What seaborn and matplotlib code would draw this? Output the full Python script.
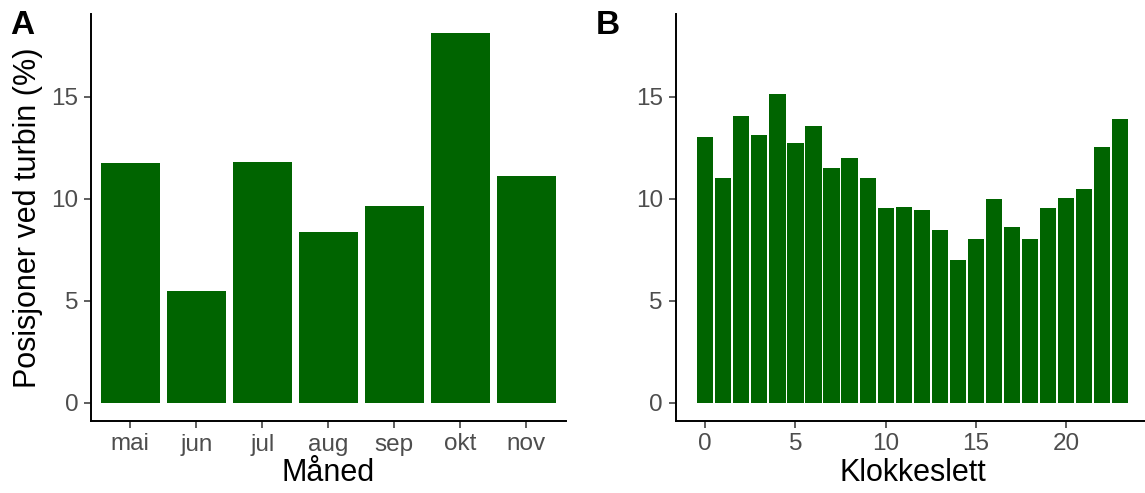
import matplotlib
matplotlib.use("Agg")
import matplotlib.pyplot as plt
import seaborn as sns
import pandas as pd

# Share of positions near the turbine, by month and by hour of day
months = ["mai", "jun", "jul", "aug", "sep", "okt", "nov"]
month_pct = [11.76, 5.49, 11.81, 8.39, 9.64, 18.16, 11.13]

hours = list(range(24))
hour_pct = [13.01, 11.04, 14.08, 13.14, 15.15, 12.76, 13.59, 11.50,
            11.99, 11.04, 9.54, 9.61, 9.44, 8.47, 7.01, 8.01,
            10.00, 8.62, 8.01, 9.54, 10.06, 10.48, 12.52, 13.93]

y_label = "Posisjoner ved turbin (%)"
x_label_a = "Måned"
x_label_b = "Klokkeslett"
y_ticks = [0, 5, 10, 15]
x_ticks_b = [0, 5, 10, 15, 20]

sns.set_theme(style="ticks")
plt.rcParams["font.family"] = ["Liberation Sans", "DejaVu Sans"]
plt.rcParams["text.color"] = "black"

BAR = "#006400"
TEXT = "#4D4D4D"
TICK_SIZE = 17.5
TITLE_SIZE = 22

df_m = pd.DataFrame({"month": months, "pct": month_pct})
df_h = pd.DataFrame({"hour": hours, "pct": hour_pct})

W, H = 1145, 493
fig = plt.figure(figsize=(W / 100, H / 100), dpi=100)

ax_a = fig.add_axes([90.7 / W, (H - 421) / H, (566 - 90.7) / W, 407 / H])
ax_b = fig.add_axes([675.5 / W, (H - 421) / H, (1150 - 675.5) / W, 407 / H])

sns.barplot(data=df_m, x="month", y="pct", order=months, color=BAR,
            width=0.9, errorbar=None, saturation=1, linewidth=0, ax=ax_a)
sns.barplot(data=df_h, x="hour", y="pct", native_scale=True, color=BAR,
            width=0.9, errorbar=None, saturation=1, linewidth=0, ax=ax_b)

ymax = max(max(month_pct), max(hour_pct))
ylim = (-0.05 * ymax, 1.05 * ymax)

ax_a.set_xlim(-0.6, len(months) - 1 + 0.6)
span_b = (hours[-1] + 0.45) - (hours[0] - 0.45)
ax_b.set_xlim(hours[0] - 0.45 - 0.05 * span_b, hours[-1] + 0.45 + 0.05 * span_b)
ax_b.set_xticks(x_ticks_b)

for ax in (ax_a, ax_b):
    ax.set_ylim(*ylim)
    ax.set_yticks(y_ticks)
    for side in ("top", "right"):
        ax.spines[side].set_visible(False)
    for side in ("left", "bottom"):
        ax.spines[side].set_linewidth(1.4)
        ax.spines[side].set_color("black")
    ax.tick_params(axis="both", length=5, width=1.1, color="#333333",
                   labelsize=TICK_SIZE, labelcolor=TEXT, pad=4)
    ax.set_facecolor("white")

ax_a.set_ylabel(y_label, fontsize=TITLE_SIZE, color="black", labelpad=6)
ax_a.set_xlabel(x_label_a, fontsize=TITLE_SIZE, color="black", labelpad=2)
ax_b.set_ylabel("")
ax_b.set_xlabel(x_label_b, fontsize=TITLE_SIZE, color="black", labelpad=2)

fig.text(10 / W, 1 - 10 / H, "A", fontsize=24, fontweight="bold",
         color="black", va="top", ha="left")
fig.text(596 / W, 1 - 10 / H, "B", fontsize=24, fontweight="bold",
         color="black", va="top", ha="left")

fig.savefig("out.png", dpi=100, facecolor="white")
